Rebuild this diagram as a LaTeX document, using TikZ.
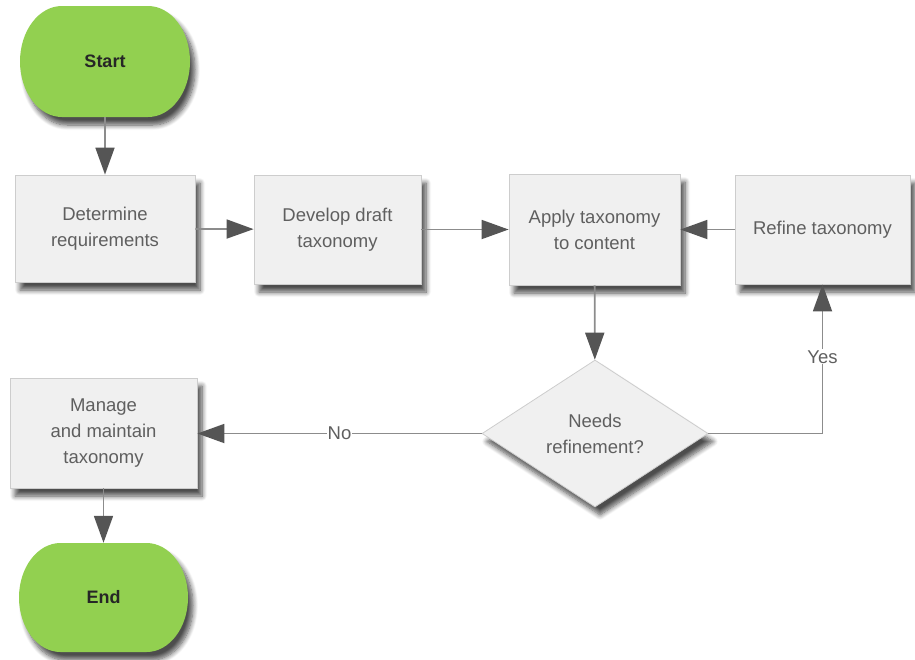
\documentclass[tikz,border=0pt]{standalone}
\usepackage{fontspec}
\setmainfont{Liberation Sans}
\usetikzlibrary{arrows.meta,shapes.geometric,shadows.blur}
\definecolor{termgreen}{RGB}{146,208,80}
\definecolor{boxfill}{RGB}{240,240,240}
\definecolor{boxline}{RGB}{205,205,205}
\definecolor{boxtext}{RGB}{95,95,95}
\definecolor{linkgray}{RGB}{140,140,140}
\definecolor{tipgray}{RGB}{85,85,85}
\tikzset{
  softshadow/.style={blur shadow={shadow xshift=5pt, shadow yshift=-8pt,
      shadow blur radius=5pt, shadow blur steps=8, shadow opacity=70}},
  terminal/.style={draw=none, inner sep=0pt,
      font=\fontsize{18}{24}\selectfont\bfseries, text=black!85},
  stepbox/.style={softshadow, fill=boxfill, draw=boxline, line width=0.8pt,
      inner sep=0pt, align=center, text=boxtext,
      font=\fontsize{18.5}{26}\selectfont},
  decision/.style={softshadow, diamond, aspect=1.54, fill=boxfill, draw=boxline,
      line width=0.8pt, inner sep=0pt, align=center, text=boxtext,
      minimum width=226pt, minimum height=147pt,
      font=\fontsize{18.5}{26}\selectfont},
  link/.style={draw=linkgray, line width=1.8pt,
      -{Triangle[length=27pt,width=19pt,color=tipgray]}},
  linklabel/.style={fill=white, inner sep=1pt, text=boxtext,
      font=\fontsize{18.5}{22}\selectfont}
}
% green terminal outline: flat top and bottom, elliptical ends
% #1,#2 centre; #3 half length of the flat part; #4 end radius; #5 half height
\newcommand\termoutline[5]{%
  \fill[termgreen, softshadow]
    (#1-#3,#2-#5) -- (#1+#3,#2-#5)
    arc[start angle=-90, end angle=90, x radius=#4, y radius=#5]
    -- (#1-#3,#2+#5)
    arc[start angle=90, end angle=270, x radius=#4, y radius=#5] -- cycle;}
\begin{document}
\begin{tikzpicture}[x=1pt,y=-1pt]
  \useasboundingbox (0,0) rectangle (915,659);

  % terminals
  \termoutline{105}{61.5}{43}{42}{55.5}
  \termoutline{103.5}{597.5}{43}{41.5}{54.5}
  \node[terminal, minimum width=170pt, minimum height=111pt] (start) at (105,61.5) {Start};
  \node[terminal, minimum width=169pt, minimum height=109pt] (end) at (103.5,597.5) {End};

  % process steps
  \node[stepbox, minimum width=180pt, minimum height=107pt] (req) at (105,228.5)
      {Determine\\requirements};
  \node[stepbox, minimum width=167pt, minimum height=109pt] (draft) at (337.5,229.5)
      {Develop draft\\taxonomy};
  \node[stepbox, minimum width=171pt, minimum height=111pt] (apply) at (594.5,229.5)
      {Apply taxonomy\\to content};
  \node[stepbox, minimum width=175pt, minimum height=109pt] (refine) at (822.5,229.5)
      {Refine taxonomy};
  \node[stepbox, minimum width=187pt, minimum height=110pt] (manage) at (103.5,433)
      {Manage\\and maintain\\taxonomy};

  % decision
  \node[decision] (needs) at (595,433.5) {Needs\\refinement?};

  % connectors
  \draw[link] (start) -- (req);
  \draw[link] (req) -- (draft);
  \draw[link] (draft) -- (apply);
  \draw[link] (refine) -- (apply);
  \draw[link] (apply) -- (needs);
  \draw[link] (needs.east) -| (refine.south) node[linklabel, pos=0.757] {Yes};
  \draw[link] (needs.west) -- (needs.west -| manage.east) node[linklabel, pos=0.5] {No};
  \draw[link] (manage) -- (end);
\end{tikzpicture}
\end{document}
